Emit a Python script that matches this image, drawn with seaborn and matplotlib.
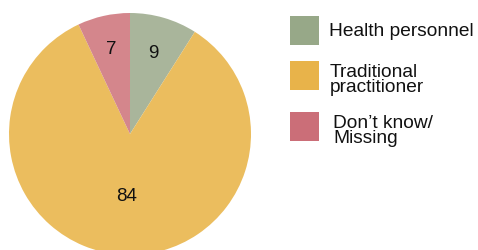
import numpy as np
import matplotlib
matplotlib.use("Agg")
import matplotlib.pyplot as plt
from matplotlib.patches import Rectangle
import seaborn as sns

# data
categories = ["Health personnel", "Traditional\npractitioner", "Don\u2019t know/\nMissing"]
values = [9, 84, 7]
pie_colors = ["#A9B59B", "#EBBD5E", "#D4868C"]
legend_colors = ["#97A888", "#E8B34A", "#CB6E78"]
label_dist = [0.70, 0.51, 0.72]

sns.set_theme(style="white")
plt.rcParams["font.family"] = ["Liberation Sans", "DejaVu Sans"]

W, H = 478, 251
fig = plt.figure(figsize=(W / 100, H / 100), dpi=100)
fig.patch.set_facecolor("white")

# pie axes, radius 121 px, centre (130, 135) in image coords
R = 121
cx, cy = 130, 135
ax = fig.add_axes([(cx - R) / W, (H - cy - R) / H, 2 * R / W, 2 * R / H])
wedges, _ = ax.pie(values, colors=pie_colors, startangle=90, counterclock=False,
                   radius=1, wedgeprops=dict(linewidth=0))
ax.set_xlim(-1, 1)
ax.set_ylim(-1, 1)
ax.set_aspect("auto")
ax.axis("off")

for w, v, d in zip(wedges, values, label_dist):
    ang = np.deg2rad((w.theta1 + w.theta2) / 2)
    ax.text(d * np.cos(ang), d * np.sin(ang), str(v), ha="center", va="center",
            fontsize=13.5, color="#111111")

# legend drawn by hand
box = 29
box_x = 290
box_top = [17, 62, 113]
text_x = [329, 330, 333]
text_cy = [31, 80, 131]
for lab, col, bt, tx, ty in zip(categories, legend_colors, box_top, text_x, text_cy):
    fig.add_artist(Rectangle((box_x / W, (H - bt - box) / H), box / W, box / H,
                             transform=fig.transFigure, facecolor=col,
                             edgecolor="none"))
    fig.text(tx / W, (H - ty) / H, lab, ha="left", va="center",
             fontsize=13.8, color="#111111", linespacing=0.92)

fig.savefig("out.png", dpi=100)
